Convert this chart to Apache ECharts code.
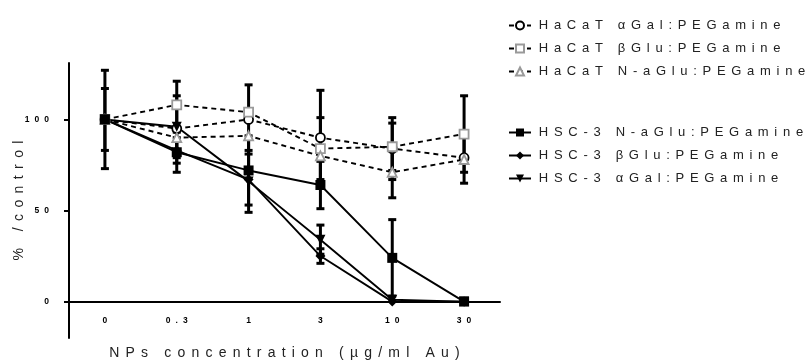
<!DOCTYPE html>
<html>
<head>
<meta charset="utf-8">
<script src="https://cdn.jsdelivr.net/npm/echarts@6/dist/echarts.min.js"></script>
<style>
  html, body { margin: 0; padding: 0; background: #fff; }
  #chart { width: 808px; height: 363px; }
</style>
</head>
<body>
<div id="chart"></div>
<script>
// Concentration categories (µg/ml Au)
const concentrations = ['0', '0.3', '1', '3', '10', '30'];
const yTicks = [0, 50, 100];

// Cell viability, % of control (mean) and error (±)
const hacatAlphaGal = [100, 95, 100, 90, 84, 79];
const hacatAlphaGalErr = [0, 0, 19, 26, 17, 14];
const hacatBetaGlu = [100, 108, 104, 84, 85, 92];
const hacatBetaGluErr = [0, 13, 0, 17, 13, 21];
const hacatNaGlu = [100, 90, 91, 80, 71, 78];
const hacatNaGluErr = [0, 0, 0, 0, 14, 0];

const hscNaGlu = [100, 82, 72, 64, 24, 0];
const hscNaGluErr = [27, 11, 19, 13, 21, 0];
const hscBetaGlu = [100, 83, 67, 25, 0, 0];
const hscBetaGluErr = [17, 7, 0, 4, 0, 0];
const hscAlphaGal = [100, 96, 66, 34, 1, 0];
const hscAlphaGalErr = [0, 17, 17, 8, 0, 0];

const FONT = "'Liberation Sans', Arial, sans-serif";
const GRAY = '#9a9a9a';
const Y_MIN = -20, Y_MAX = 131;
const GRID = { left: 69, right: 308, top: 63, bottom: 25 };

// wide letter tracking, one rich token per character
function tracked(str, key) {
  return Array.from(String(str)).map(ch => '{' + key + '|' + ch + '}').join('');
}

const seriesDefs = [
  { name: 'HaCaT αGal:PEGamine', data: hacatAlphaGal, err: hacatAlphaGalErr, dashed: true,
    symbol: 'circle', size: 9, fill: '#fff', border: '#000' },
  { name: 'HaCaT βGlu:PEGamine', data: hacatBetaGlu, err: hacatBetaGluErr, dashed: true,
    symbol: 'rect', size: 9, fill: '#fff', border: GRAY },
  { name: 'HaCaT N-aGlu:PEGamine', data: hacatNaGlu, err: hacatNaGluErr, dashed: true,
    symbol: 'triangle', size: 9, fill: '#fff', border: GRAY },
  { name: 'HSC-3 N-aGlu:PEGamine', data: hscNaGlu, err: hscNaGluErr, dashed: false,
    symbol: 'rect', size: 10, fill: '#000', border: '#000' },
  { name: 'HSC-3 βGlu:PEGamine', data: hscBetaGlu, err: hscBetaGluErr, dashed: false,
    symbol: 'diamond', size: 10, fill: '#000', border: '#000' },
  { name: 'HSC-3 αGal:PEGamine', data: hscAlphaGal, err: hscAlphaGalErr, dashed: false,
    symbol: 'path://M0,0 L10,0 L5,9 Z', size: 10, fill: '#000', border: '#000' }
];

function errorBarRender(params, api) {
  const x = api.value(0), y = api.value(1), e = api.value(2);
  const top = api.coord([x, y + e]);
  const bot = api.coord([x, y - e]);
  const hw = 4;
  const st = { stroke: '#000', lineWidth: 3 };
  return {
    type: 'group',
    children: [
      { type: 'line', shape: { x1: top[0], y1: top[1], x2: bot[0], y2: bot[1] }, style: st },
      { type: 'line', shape: { x1: top[0] - hw, y1: top[1], x2: top[0] + hw, y2: top[1] }, style: st },
      { type: 'line', shape: { x1: bot[0] - hw, y1: bot[1], x2: bot[0] + hw, y2: bot[1] }, style: st }
    ]
  };
}

const series = [];
seriesDefs.forEach(d => {
  series.push({
    type: 'custom',
    renderItem: errorBarRender,
    data: d.data.map((v, i) => [i, v, d.err[i]]).filter(p => p[2] > 0),
    encode: { x: 0, y: 1 },
    z: 1,
    silent: true
  });
});
seriesDefs.forEach(d => {
  series.push({
    type: 'line',
    name: d.name,
    data: d.data,
    symbol: d.symbol,
    symbolSize: d.size,
    showSymbol: true,
    lineStyle: { color: '#000', width: 1.9, type: d.dashed ? [5, 4] : 'solid' },
    itemStyle: { color: d.fill, borderColor: d.border, borderWidth: d.fill === '#fff' ? 1.8 : 0, opacity: 1 },
    z: 3,
    animation: false
  });
});

const legendText = {
  color: '#222',
  rich: { c: { fontSize: 13, fontFamily: FONT, color: '#222', padding: [0, 2.85, 0, 2.85] } }
};

// x axis sits on y = 0 while the y axis runs down to Y_MIN
const plotHeight = 363 - GRID.top - GRID.bottom;
const zeroOffset = -plotHeight * (0 - Y_MIN) / (Y_MAX - Y_MIN);

const option = {
  animation: false,
  backgroundColor: '#fff',
  grid: Object.assign({ containLabel: false, outerBoundsMode: 'none' }, GRID),
  legend: [
    {
      data: seriesDefs.slice(0, 3).map(d => d.name),
      orient: 'vertical', left: 503, top: 14,
      itemWidth: 22, itemHeight: 10, itemGap: 10,
      formatter: n => tracked(n, 'c'),
      textStyle: legendText,
      selectedMode: false
    },
    {
      data: seriesDefs.slice(3).map(d => d.name),
      orient: 'vertical', left: 503, top: 121,
      itemWidth: 22, itemHeight: 10, itemGap: 10,
      formatter: n => tracked(n, 'c'),
      textStyle: legendText,
      selectedMode: false
    }
  ],
  xAxis: {
    type: 'category',
    data: concentrations,
    boundaryGap: true,
    offset: zeroOffset,
    axisLine: { onZero: false, lineStyle: { color: '#000', width: 2 } },
    axisTick: { alignWithLabel: true, length: 5, lineStyle: { color: '#000', width: 2 } },
    axisLabel: {
      interval: 0,
      hideOverlap: false,
      margin: 15,
      formatter: v => tracked(v, 't'),
      rich: { t: { fontSize: 8.5, fontWeight: 'bold', fontFamily: FONT, color: '#000', padding: [0, 2.5, 0, 2.5] } }
    },
    splitLine: { show: false },
    name: tracked('NPs concentration (µg/ml Au)', 'n'),
    nameLocation: 'middle',
    nameGap: 45,
    nameMoveOverlap: false,
    nameTextStyle: {
      rich: { n: { fontSize: 14, fontFamily: FONT, color: '#222', padding: [0, 3.1, 0, 3.1] } }
    }
  },
  yAxis: {
    type: 'value',
    min: Y_MIN,
    max: Y_MAX,
    axisLine: { show: true, onZero: false, lineStyle: { color: '#000', width: 2 } },
    axisTick: { show: true, length: 5, customValues: yTicks, lineStyle: { color: '#000', width: 2 } },
    axisLabel: {
      margin: 17.5,
      customValues: yTicks,
      formatter: v => tracked(v, 't'),
      rich: { t: { fontSize: 8.5, fontWeight: 'bold', fontFamily: FONT, color: '#000', padding: [0, 2.5, 0, 2.5] } }
    },
    splitLine: { show: false },
    name: tracked('% /control', 'n'),
    nameLocation: 'middle',
    nameGap: 43,
    nameMoveOverlap: false,
    nameRotate: 90,
    nameTextStyle: {
      rich: { n: { fontSize: 14, fontFamily: FONT, color: '#222', padding: [0, 3.2, 0, 3.2] } }
    }
  },
  series: series
};

const chart = echarts.init(document.getElementById('chart'), null, { renderer: 'canvas' });
chart.setOption(option);
</script>
</body>
</html>
